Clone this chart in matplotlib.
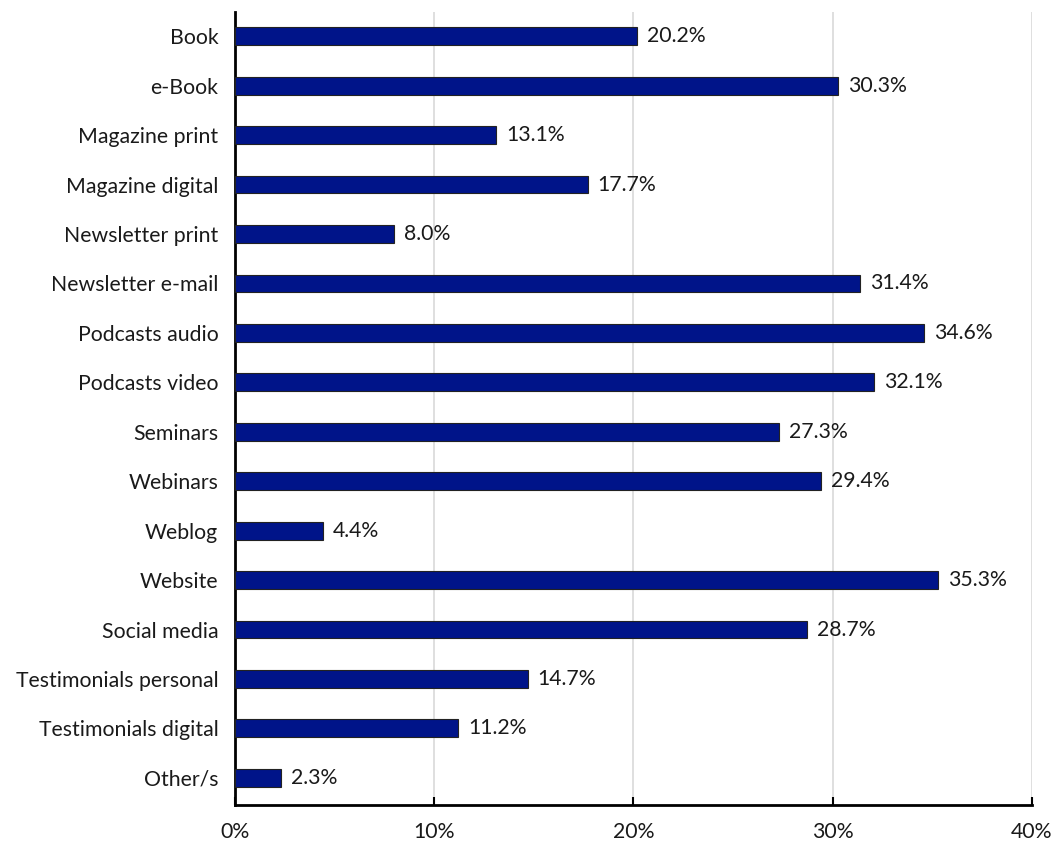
import numpy as np
import matplotlib.pyplot as plt
from matplotlib.ticker import FuncFormatter

categories = ["Book", "e-Book", "Magazine print", "Magazine digital",
              "Newsletter print", "Newsletter e-mail", "Podcasts audio",
              "Podcasts video", "Seminars", "Webinars", "Weblog", "Website",
              "Social media", "Testimonials personal", "Testimonials digital",
              "Other/s"]
values = [20.2, 30.3, 13.1, 17.7, 8.0, 31.4, 34.6, 32.1, 27.3, 29.4,
          4.4, 35.3, 28.7, 14.7, 11.2, 2.3]

plt.rcParams['font.family'] = ['Lato', 'DejaVu Sans']
fs = 15.3

fig = plt.figure(figsize=(10.56, 8.41), dpi=100)
ax = fig.add_axes([0.2225, 0.0428, 0.7545, 0.9429])

y = np.arange(len(categories))
ax.barh(y, values, height=0.36, color='#001489', edgecolor='#222222',
        linewidth=0.8, zorder=3)

# percentage label to the right of each bar
for yi, v in zip(y, values):
    ax.text(v + 0.5, yi, f"{v:.1f}%", va='center', ha='left', fontsize=fs,
            color='#1a1a1a')

ax.set_xlim(0, 40)
ax.set_ylim(15.55, -0.49)
ax.set_yticks(y)
ax.set_yticklabels(categories, fontsize=fs, color='#1a1a1a')
ax.set_xticks([0, 10, 20, 30, 40])
ax.xaxis.set_major_formatter(FuncFormatter(lambda x, _: f"{x:.0f}%"))
ax.tick_params(axis='x', direction='in', length=6, width=1.5, pad=12,
               labelsize=fs, labelcolor='#1a1a1a')
ax.tick_params(axis='y', length=0, pad=12)

ax.grid(axis='x', color='#d9d9d9', linewidth=1.2, zorder=0)
for s in ['top', 'right']:
    ax.spines[s].set_visible(False)
ax.spines['left'].set_linewidth(2)
ax.spines['bottom'].set_linewidth(2)

fig.savefig('out.png', dpi=100)
